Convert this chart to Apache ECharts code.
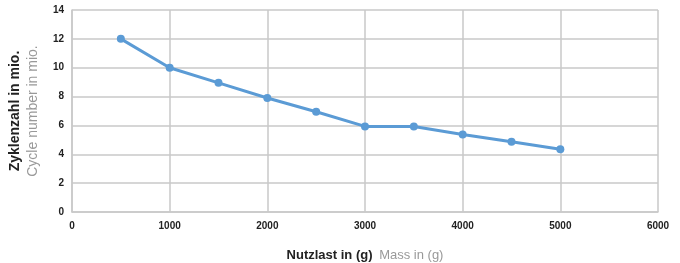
<!DOCTYPE html>
<html>
<head>
<meta charset="utf-8">
<script src="https://cdn.jsdelivr.net/npm/echarts@6/dist/echarts.min.js"></script>
<style>
  html, body { margin: 0; padding: 0; background: #fff; }
  #chart { width: 680px; height: 263px; }
</style>
</head>
<body>
<div id="chart"></div>
<script>
// Nutzlast (g) -> Zyklenzahl (mio.)
var masses = [500, 1000, 1500, 2000, 2500, 3000, 3500, 4000, 4500, 5000];
var cycles = [12, 10, 8.95, 7.9, 6.95, 5.93, 5.92, 5.37, 4.87, 4.35];

var points = masses.map(function (m, i) { return [m, cycles[i]]; });

var chart = echarts.init(document.getElementById('chart'));

var gridLine = { show: true, lineStyle: { color: '#c9c9c9', width: 1.5 } };
var font = 'Liberation Sans, Arial, sans-serif';

chart.setOption({
  animation: false,
  grid: { left: 72, right: 22, top: 10, bottom: 51, containLabel: false, outerBoundsMode: 'none' },
  xAxis: {
    type: 'value',
    min: 0, max: 6000, interval: 1000,
    axisLine: { show: true, lineStyle: { color: '#c9c9c9', width: 1.5 } },
    axisTick: { show: false },
    splitLine: gridLine,
    axisLabel: {
      color: '#222', fontSize: 10, fontWeight: 'bold', fontFamily: font, margin: 9,
      formatter: function (v) { return String(v); }
    },
    name: '{b|Nutzlast in (g)}  {g|Mass in (g)}',
    nameLocation: 'middle',
    nameGap: 37,
    nameTextStyle: {
      rich: {
        b: { fontSize: 13, fontWeight: 'bold', color: '#222', fontFamily: font },
        g: { fontSize: 13, color: '#999', fontFamily: font }
      }
    }
  },
  yAxis: {
    type: 'value',
    min: 0, max: 14, interval: 2,
    axisLine: { show: true, lineStyle: { color: '#c9c9c9', width: 1.5 } },
    axisTick: { show: false },
    splitLine: gridLine,
    axisLabel: { color: '#222', fontSize: 10, fontWeight: 'bold', fontFamily: font, margin: 8 },
    name: '{b|Zyklenzahl in mio.}\n{g|Cycle number in mio.}',
    nameLocation: 'middle',
    nameRotate: 90,
    nameGap: 30,
    nameTextStyle: {
      rich: {
        b: { fontSize: 14, fontWeight: 'bold', color: '#222', fontFamily: font, lineHeight: 18 },
        g: { fontSize: 14, color: '#999', fontFamily: font, lineHeight: 18 }
      }
    }
  },
  series: [{
    type: 'line',
    data: points,
    symbol: 'circle',
    symbolSize: 8,
    lineStyle: { color: '#5b9bd5', width: 3 },
    itemStyle: { color: '#5b9bd5' }
  }]
});
</script>
</body>
</html>
